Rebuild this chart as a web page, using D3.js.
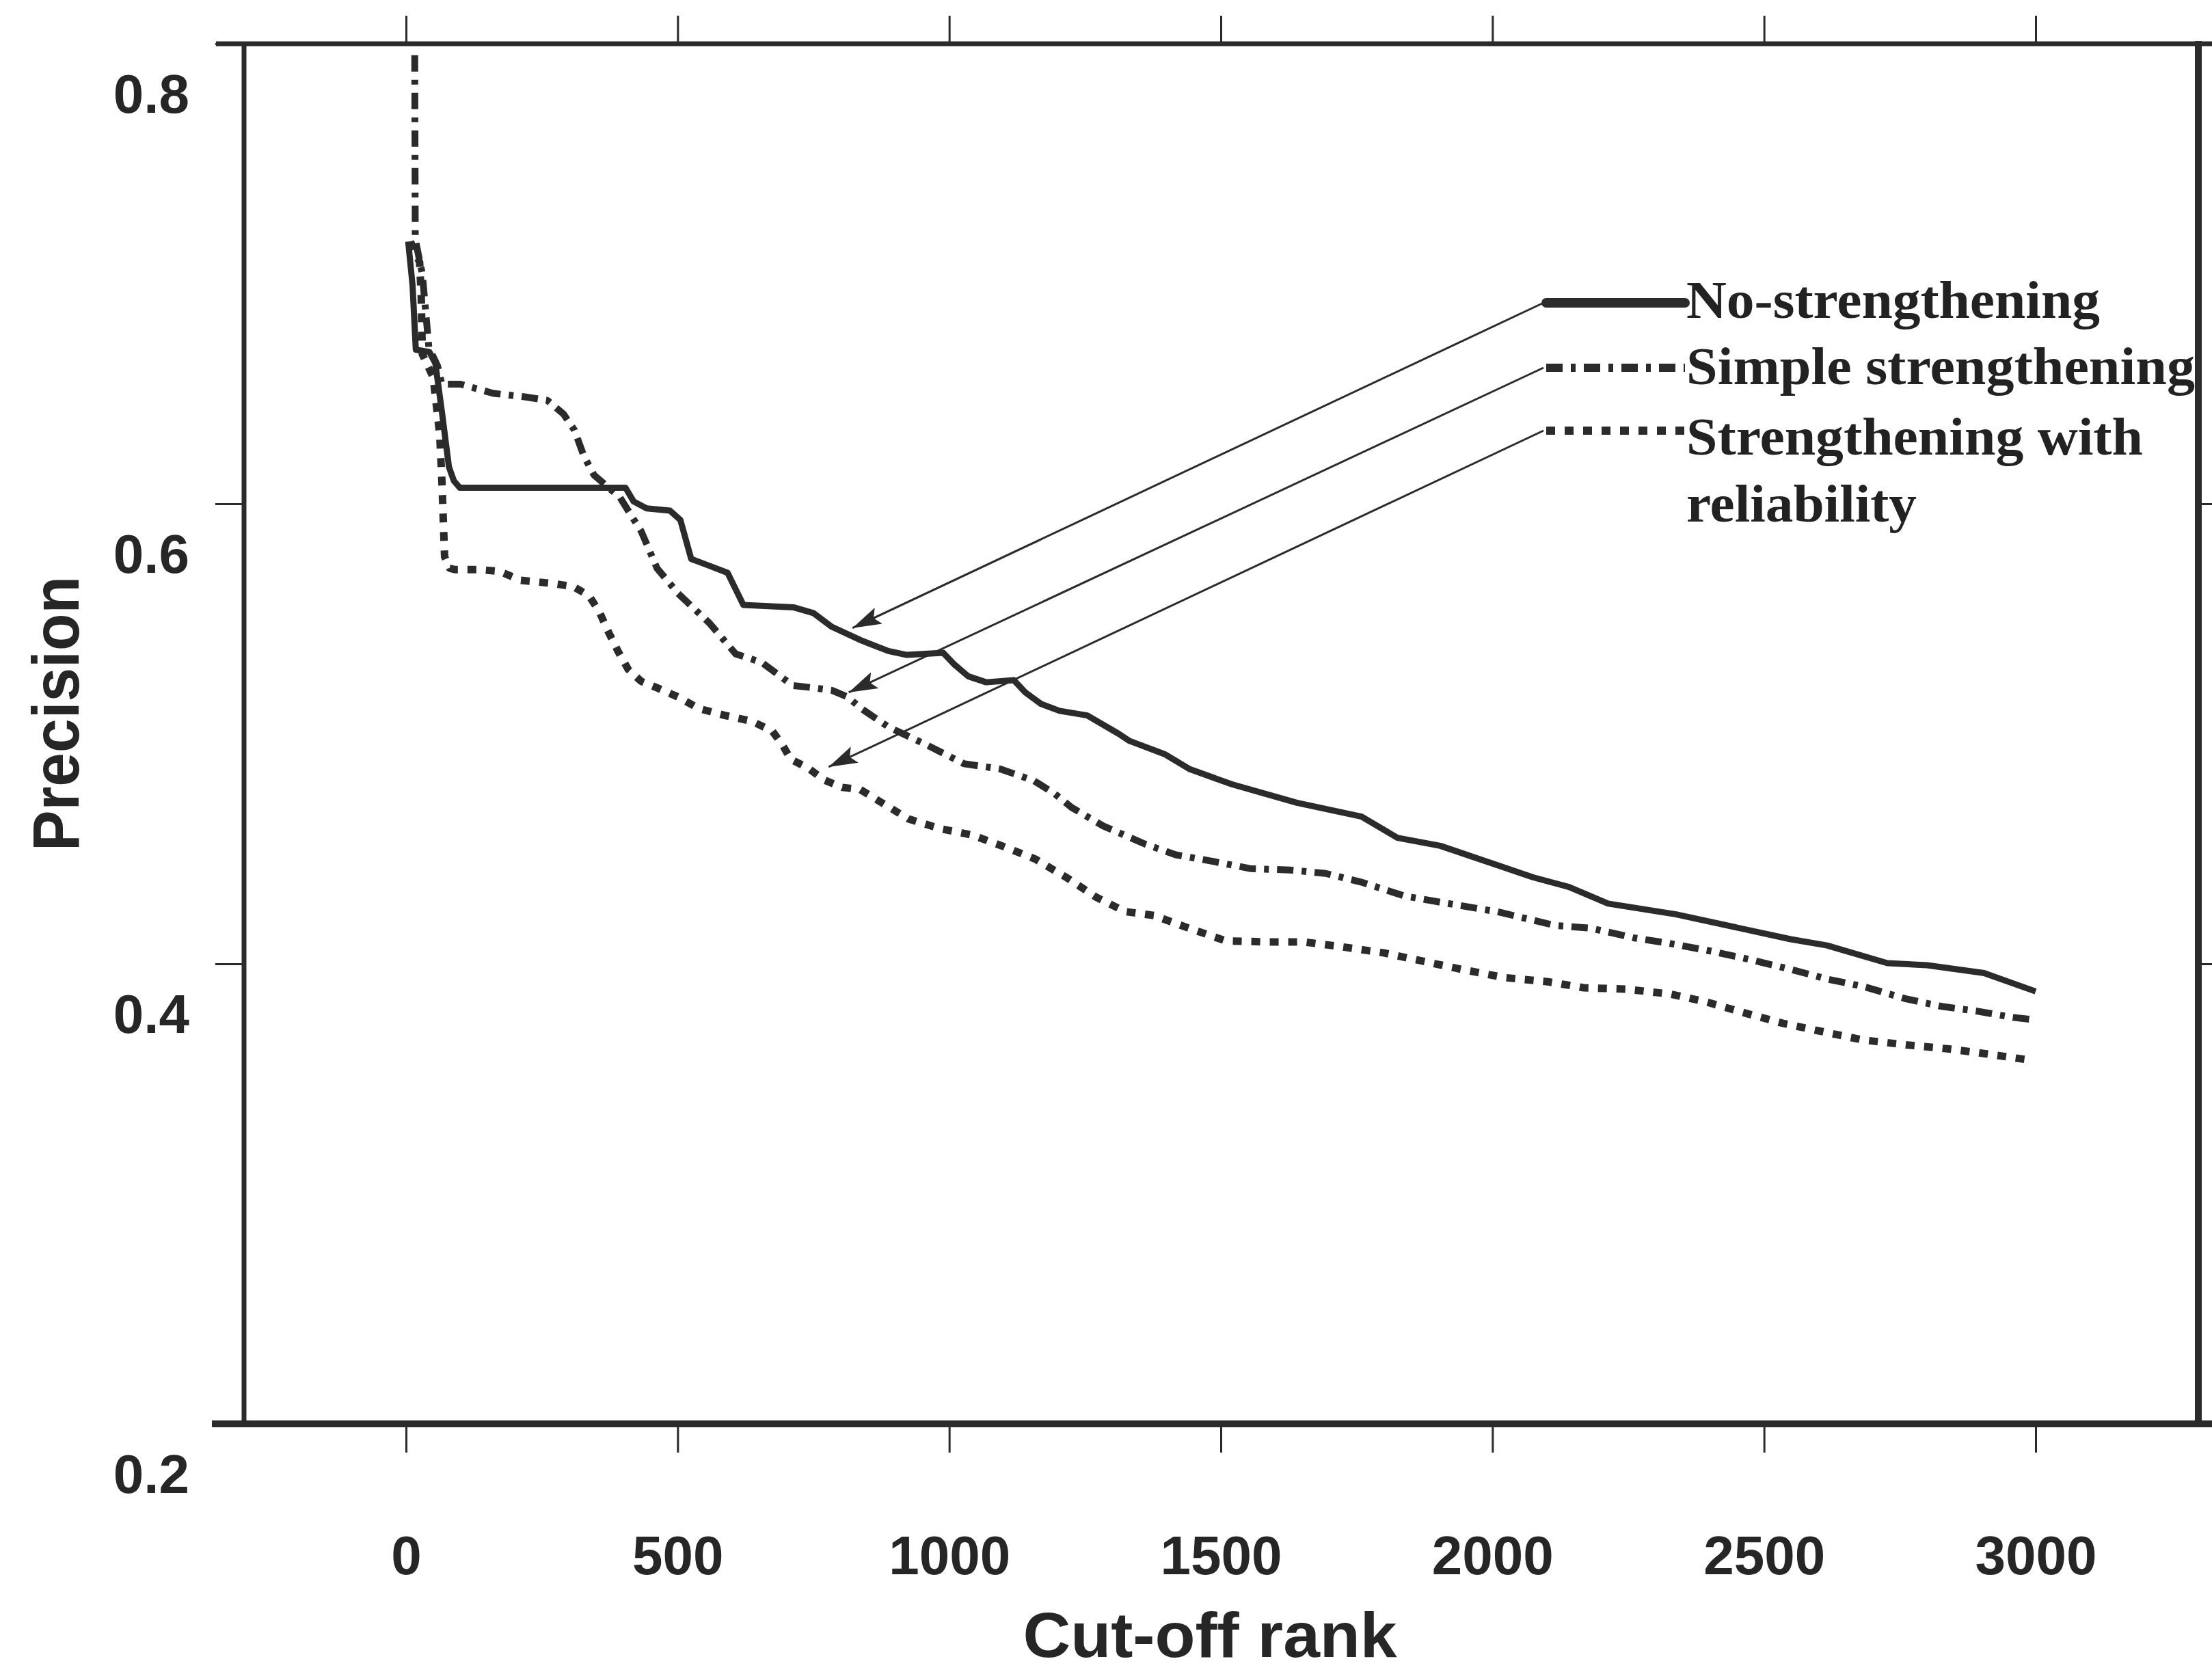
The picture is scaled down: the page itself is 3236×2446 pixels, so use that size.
<!DOCTYPE html>
<html lang="en">
<head>
<meta charset="UTF-8">
<title>Precision vs Cut-off rank</title>
<script src="https://d3js.org/d3.v7.min.js"></script>
<style>
    body {
    margin: 0;
    background-color: white;
    }
    .curve {
    fill: none;
    stroke: #2b2b2b;
    stroke-linejoin: round;
    }
    .axis path {
    display: none;
    }
    .axis line {
    stroke: #2b2b2b;
    stroke-width: 3px;
    }
    .axis text {
    font-family: "Liberation Sans", Arial, sans-serif;
    font-weight: bold;
    font-size: 80px;
    fill: #262626;
    }
    .frame {
    stroke: #2b2b2b;
    }
    .title {
    font-family: "Liberation Sans", Arial, sans-serif;
    font-weight: bold;
    fill: #262626;
    }
    .legend text {
    font-family: "Liberation Serif", "Times New Roman", serif;
    font-weight: bold;
    font-size: 78px;
    fill: #222;
    }
    .leader {
    stroke: #2b2b2b;
    stroke-width: 3px;
    }
</style>
</head>
<body>
<svg id="chart"></svg>
<script>
    const width = 3236;
    const height = 2446;

    // Data
    const seriesNames = ["No-strengthening", "Simple strengthening", "Strengthening with reliability"];

    const rankNo = [4, 12, 18, 43, 54, 66, 79, 88, 99, 404, 419, 443, 486, 505, 525, 559, 592, 621, 713, 750, 784, 838, 888, 922, 989, 1010, 1035, 1068, 1119, 1140, 1169, 1203, 1254, 1312, 1331, 1398, 1443, 1521, 1640, 1759, 1825, 1904, 2075, 2141, 2213, 2338, 2549, 2616, 2727, 2800, 2905, 3000];
    const precNo = [0.714, 0.695, 0.667, 0.666, 0.661, 0.640, 0.616, 0.610, 0.607, 0.607, 0.601, 0.598, 0.597, 0.593, 0.576, 0.573, 0.570, 0.556, 0.555, 0.5525, 0.5465, 0.5406, 0.536, 0.5343, 0.5352, 0.530, 0.525, 0.5224, 0.5233, 0.518, 0.513, 0.510, 0.508, 0.500, 0.497, 0.491, 0.4846, 0.478, 0.470, 0.464, 0.4548, 0.4513, 0.4376, 0.4334, 0.4262, 0.4215, 0.4107, 0.408, 0.4003, 0.3994, 0.396, 0.388];

    const rankSimple = [16, 17, 30, 42, 58, 66, 100, 161, 218, 260, 290, 310, 327, 346, 394, 433, 462, 501, 559, 607, 655, 712, 750, 784, 813, 838, 888, 960, 1027, 1094, 1156, 1194, 1225, 1283, 1361, 1417, 1482, 1554, 1627, 1693, 1759, 1838, 1904, 2010, 2115, 2181, 2260, 2326, 2405, 2471, 2549, 2616, 2682, 2761, 2827, 2893, 2958, 3000];
    const precSimple = [0.795, 0.715, 0.700, 0.668, 0.660, 0.652, 0.652, 0.648, 0.6465, 0.645, 0.639, 0.632, 0.621, 0.6125, 0.6027, 0.588, 0.572, 0.561, 0.548, 0.5347, 0.531, 0.521, 0.520, 0.5189, 0.516, 0.511, 0.503, 0.495, 0.487, 0.4847, 0.4796, 0.474, 0.468, 0.460, 0.452, 0.4474, 0.4447, 0.4414, 0.4408, 0.4393, 0.4355, 0.4295, 0.4268, 0.4226, 0.4167, 0.4155, 0.4113, 0.4089, 0.4054, 0.402, 0.3976, 0.3934, 0.3902, 0.3848, 0.3815, 0.3794, 0.3767, 0.3756];

    const rankReliab = [8, 25, 28, 30, 50, 62, 66, 71, 80, 90, 134, 173, 211, 269, 308, 337, 356, 370, 390, 409, 433, 462, 501, 539, 587, 636, 674, 694, 708, 741, 769, 803, 836, 888, 925, 984, 1042, 1100, 1158, 1216, 1271, 1324, 1377, 1435, 1509, 1588, 1654, 1720, 1799, 1865, 1943, 2023, 2102, 2168, 2246, 2326, 2391, 2471, 2537, 2602, 2682, 2761, 2840, 2905, 2985];
    const precReliab = [0.714, 0.705, 0.690, 0.665, 0.655, 0.630, 0.610, 0.577, 0.572, 0.5714, 0.5714, 0.5706, 0.5667, 0.5654, 0.564, 0.560, 0.553, 0.5455, 0.536, 0.528, 0.5228, 0.520, 0.516, 0.511, 0.508, 0.5055, 0.5013, 0.4948, 0.489, 0.485, 0.480, 0.4767, 0.4758, 0.4683, 0.463, 0.4587, 0.456, 0.451, 0.4456, 0.4375, 0.4289, 0.4227, 0.421, 0.416, 0.410, 0.4095, 0.4095, 0.4075, 0.4048, 0.4015, 0.3976, 0.394, 0.3922, 0.3896, 0.389, 0.3869, 0.3836, 0.3782, 0.374, 0.3708, 0.3669, 0.3648, 0.3630, 0.361, 0.3583];

    // Where each legend leader arrow points (rank, precision)
    const arrowRank = [822, 815, 778];
    const arrowPrec = [0.546, 0.518, 0.4856];

    const xTicks = [0, 500, 1000, 1500, 2000, 2500, 3000];
    const yTicks = [0.2, 0.4, 0.6, 0.8];
    const rightTicks = [0.4, 0.6];

    // Styles (kept apart from the data)
    const lineWidths = [9, 10, 11];
    const lineDashes = [null, "24 12 7 12", "13 14"];

    const svg = d3.select("#chart")
                .attr("width", width)
                .attr("height", height);

    const x = d3.scaleLinear().domain([0, 3000]).range([594, 2978]);
    const y = d3.scaleLinear().domain([0.2, 0.8]).range([2083, 64]);

    const frameLeft = 357;
    const frameRight = 3216;

    // Frame
    svg.append("line").attr("class", "frame")
    .attr("x1", 316).attr("x2", width)
    .attr("y1", y(0.8)).attr("y2", y(0.8))
    .attr("stroke-width", 7);
    svg.append("line").attr("class", "frame")
    .attr("x1", 310).attr("x2", width)
    .attr("y1", y(0.2)).attr("y2", y(0.2))
    .attr("stroke-width", 10);
    svg.append("line").attr("class", "frame")
    .attr("x1", frameLeft).attr("x2", frameLeft)
    .attr("y1", y(0.8)).attr("y2", y(0.2))
    .attr("stroke-width", 7);
    svg.append("line").attr("class", "frame")
    .attr("x1", frameRight).attr("x2", frameRight)
    .attr("y1", y(0.8) - 4).attr("y2", y(0.2) + 5)
    .attr("stroke-width", 10);

    // Axes
    const leftAxis = svg.append("g")
    .attr("class", "axis")
    .attr("transform", `translate(${frameLeft},0)`)
    .call(d3.axisLeft(y).tickValues(yTicks).tickFormat(d3.format(".1f")).tickSize(42).tickPadding(38));
    leftAxis.selectAll("text").attr("dy", 100);

    const bottomAxis = svg.append("g")
    .attr("class", "axis")
    .attr("transform", `translate(0,${y(0.2)})`)
    .call(d3.axisBottom(x).tickValues(xTicks).tickFormat(d3.format("d")).tickSize(42));
    bottomAxis.selectAll("text").attr("y", 220).attr("dy", 0);

    svg.append("g")
    .attr("class", "axis")
    .attr("transform", `translate(0,${y(0.8)})`)
    .call(d3.axisTop(x).tickValues(xTicks).tickSize(41).tickFormat(""));

    svg.append("g")
    .attr("class", "axis")
    .attr("transform", `translate(${frameRight},0)`)
    .call(d3.axisRight(y).tickValues(rightTicks).tickSize(22).tickFormat(""));

    // Axis titles
    svg.append("text")
    .attr("class", "title")
    .attr("x", 1770)
    .attr("y", 2424)
    .attr("text-anchor", "middle")
    .attr("font-size", 92)
    .attr("textLength", 547)
    .attr("lengthAdjust", "spacingAndGlyphs")
    .text("Cut-off rank");

    svg.append("text")
    .attr("class", "title")
    .attr("transform", "translate(115,1044) rotate(-90)")
    .attr("text-anchor", "middle")
    .attr("font-size", 96)
    .attr("textLength", 402)
    .attr("lengthAdjust", "spacingAndGlyphs")
    .text("Precision");

    // Draw curves
    const series = [
      d3.zip(rankNo, precNo),
      d3.zip(rankSimple, precSimple),
      d3.zip(rankReliab, precReliab)
    ];

    const line = d3.line()
    .x(d => x(d[0]))
    .y(d => y(d[1]));

    svg.selectAll(".curve")
    .data(series)
    .enter()
    .append("path")
    .attr("class", "curve")
    .attr("d", line)
    .attr("stroke-width", (d, i) => lineWidths[i])
    .attr("stroke-dasharray", (d, i) => lineDashes[i]);

    // Legend with leader arrows
    svg.append("defs").append("marker")
    .attr("id", "arrow")
    .attr("markerUnits", "userSpaceOnUse")
    .attr("viewBox", "0 0 42 26")
    .attr("markerWidth", 42)
    .attr("markerHeight", 26)
    .attr("refX", 42)
    .attr("refY", 13)
    .attr("orient", "auto")
    .append("path")
    .attr("d", "M0,0 L42,13 L0,26 L8,13 Z")
    .attr("fill", "#2b2b2b");

    const sampleY = [443, 538, 630];
    const sampleX0 = 2262;
    const sampleX1 = 2465;
    const labelLines = [["No-strengthening"], ["Simple strengthening"], ["Strengthening with", "reliability"]];
    const labelWidths = [[605], [744], [668, 337]];
    const labelBase = [465, 562, 665];
    const lineGap = 98;

    const legend = svg.append("g").attr("class", "legend");

    seriesNames.forEach((name, i) => {
        // leader line with arrow head
        legend.append("line")
        .attr("class", "leader")
        .attr("x1", sampleX0 - 4)
        .attr("y1", sampleY[i])
        .attr("x2", x(arrowRank[i]))
        .attr("y2", y(arrowPrec[i]))
        .attr("marker-end", "url(#arrow)");

        // line sample
        legend.append("line")
        .attr("class", "curve")
        .attr("x1", sampleX0)
        .attr("x2", sampleX1)
        .attr("y1", sampleY[i])
        .attr("y2", sampleY[i])
        .attr("stroke-width", i === 0 ? 14 : 12)
        .attr("stroke-linecap", i === 0 ? "round" : "butt")
        .attr("stroke-dasharray", lineDashes[i]);

        // label text
        labelLines[i].forEach((txt, j) => {
          legend.append("text")
          .attr("x", 2467)
          .attr("y", labelBase[i] + j * lineGap)
          .attr("textLength", labelWidths[i][j])
          .attr("lengthAdjust", "spacingAndGlyphs")
          .text(txt);
        });
    });
</script>
</body>
</html>
